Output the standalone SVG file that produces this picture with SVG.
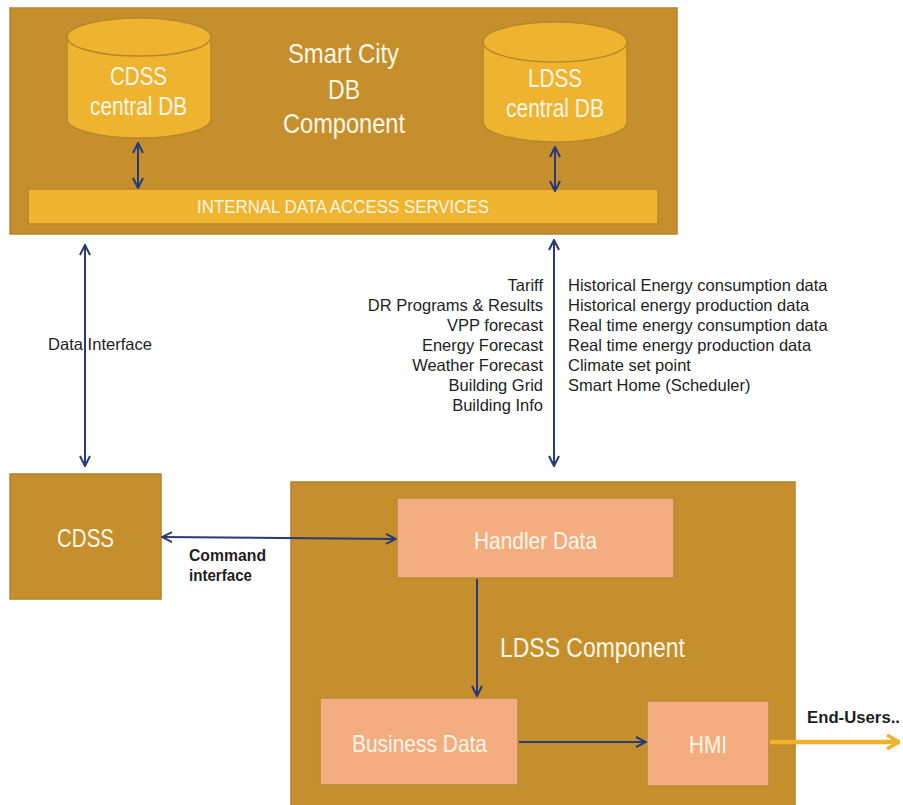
<svg xmlns="http://www.w3.org/2000/svg" width="903" height="805" viewBox="0 0 903 805">
<style>
.comp{fill:#c48f2c;stroke:#b7832a;stroke-width:1.5}
.cyl{fill:#eeb32f;stroke:#b8872a;stroke-width:1.5}
.bar{fill:#efb430;stroke:#b8852a;stroke-width:1.5}
.pink{fill:#f4ad80;stroke:#b88a3a;stroke-width:1.5}
.w{font-family:"Liberation Sans",Arial,sans-serif;fill:#fdf6e6}
.k{font-family:"Liberation Sans",Arial,sans-serif;fill:#1e1e1e;font-size:16.5px}
.nav{stroke:#283a7a;stroke-width:2;fill:none}
</style>
<defs>
<marker id="ah" viewBox="0 0 12 12" refX="11" refY="6" markerWidth="12" markerHeight="12" markerUnits="userSpaceOnUse" orient="auto-start-reverse">
<path d="M1,1 L11,6 L1,11" fill="none" stroke="#283a7a" stroke-width="2"/>
</marker>
<marker id="ao" viewBox="0 0 14 16" refX="13" refY="8" markerWidth="14" markerHeight="16" markerUnits="userSpaceOnUse" orient="auto">
<path d="M1,1 L13,8 L1,15" fill="none" stroke="#f0b12e" stroke-width="3.5"/>
</marker>
</defs>
<rect width="903" height="805" fill="#ffffff"/>

<g id="smartcity">
<rect class="comp" x="10" y="8" width="667" height="226"/>
<text class="w" font-size="28" x="288" y="63" textLength="111" lengthAdjust="spacingAndGlyphs">Smart City</text>
<text class="w" font-size="28" x="328" y="99" textLength="32" lengthAdjust="spacingAndGlyphs">DB</text>
<text class="w" font-size="28" x="283" y="133" textLength="122" lengthAdjust="spacingAndGlyphs">Component</text>
</g>

<g id="cdss-db">
<path class="cyl" d="M67,37 L67,119 A72,19 0 0 0 211,119 L211,37"/>
<ellipse class="cyl" cx="139" cy="37" rx="72" ry="19"/>
<text class="w" font-size="25" x="110" y="85" textLength="57" lengthAdjust="spacingAndGlyphs">CDSS</text>
<text class="w" font-size="25" x="90" y="115" textLength="97" lengthAdjust="spacingAndGlyphs">central DB</text>
</g>

<g id="ldss-db">
<path class="cyl" d="M483,42 L483,122 A72,20 0 0 0 627,122 L627,42"/>
<ellipse class="cyl" cx="555" cy="42" rx="72" ry="20"/>
<text class="w" font-size="25" x="528" y="87" textLength="54" lengthAdjust="spacingAndGlyphs">LDSS</text>
<text class="w" font-size="25" x="506" y="117" textLength="98" lengthAdjust="spacingAndGlyphs">central DB</text>
</g>

<g id="internal-bar">
<rect class="bar" x="28" y="189" width="630" height="35"/>
<text class="w" font-size="18" x="197" y="213" textLength="292" lengthAdjust="spacingAndGlyphs">INTERNAL DATA ACCESS SERVICES</text>
</g>

<g id="cdss">
<rect class="comp" x="10" y="474" width="151" height="125"/>
<text class="w" font-size="25" x="57" y="547" textLength="57" lengthAdjust="spacingAndGlyphs">CDSS</text>
</g>

<g id="ldss">
<rect class="comp" x="291" y="482" width="504" height="330"/>
<text class="w" font-size="27" x="500" y="657" textLength="185" lengthAdjust="spacingAndGlyphs">LDSS Component</text>
</g>

<g id="handler">
<rect class="pink" x="397" y="498" width="277" height="80"/>
<text class="w" font-size="24" x="474" y="549" textLength="123" lengthAdjust="spacingAndGlyphs">Handler Data</text>
</g>

<g id="business">
<rect class="pink" x="320" y="698" width="198" height="87"/>
<text class="w" font-size="24" x="352" y="752" textLength="135" lengthAdjust="spacingAndGlyphs">Business Data</text>
</g>

<g id="hmi">
<rect class="pink" x="647" y="701" width="122" height="85"/>
<text class="w" font-size="24" x="689" y="753" textLength="38" lengthAdjust="spacingAndGlyphs">HMI</text>
</g>

<g id="connectors">
<line class="nav" x1="138" y1="143" x2="138" y2="188" marker-start="url(#ah)" marker-end="url(#ah)"/>
<line class="nav" x1="555" y1="147" x2="555" y2="191" marker-start="url(#ah)" marker-end="url(#ah)"/>
<line class="nav" x1="85" y1="245" x2="85" y2="466" marker-start="url(#ah)" marker-end="url(#ah)"/>
<line class="nav" x1="554" y1="240" x2="554" y2="466" marker-start="url(#ah)" marker-end="url(#ah)"/>
<line class="nav" x1="162" y1="537" x2="396" y2="539" marker-start="url(#ah)" marker-end="url(#ah)"/>
<line class="nav" x1="477" y1="579" x2="477" y2="696" marker-end="url(#ah)"/>
<line class="nav" x1="519" y1="742" x2="646" y2="742" marker-end="url(#ah)"/>
<line x1="770" y1="742" x2="899" y2="742" stroke="#f0b12e" stroke-width="4.5" marker-end="url(#ao)"/>
</g>

<g id="labels">
<text class="k" x="48" y="350" font-size="16" textLength="104" lengthAdjust="spacingAndGlyphs">Data Interface</text>
<text class="k" x="189" y="561" font-weight="bold" font-size="15.5" textLength="77" lengthAdjust="spacingAndGlyphs">Command</text>
<text class="k" x="189" y="581" font-weight="bold" font-size="15.5" textLength="63" lengthAdjust="spacingAndGlyphs">interface</text>
<text class="k" x="807" y="723" font-weight="bold" font-size="16.5" textLength="93" lengthAdjust="spacingAndGlyphs">End-Users..</text>
<g text-anchor="end">
<text class="k" x="543" y="291">Tariff</text>
<text class="k" x="543" y="311">DR Programs &amp; Results</text>
<text class="k" x="543" y="331">VPP forecast</text>
<text class="k" x="543" y="351">Energy Forecast</text>
<text class="k" x="543" y="371">Weather Forecast</text>
<text class="k" x="543" y="391">Building Grid</text>
<text class="k" x="543" y="411">Building Info</text>
</g>
<text class="k" x="568" y="291">Historical Energy consumption data</text>
<text class="k" x="568" y="311">Historical energy production data</text>
<text class="k" x="568" y="331">Real time energy consumption data</text>
<text class="k" x="568" y="351">Real time energy production data</text>
<text class="k" x="568" y="371">Climate set point</text>
<text class="k" x="568" y="391">Smart Home (Scheduler)</text>
</g>
</svg>
